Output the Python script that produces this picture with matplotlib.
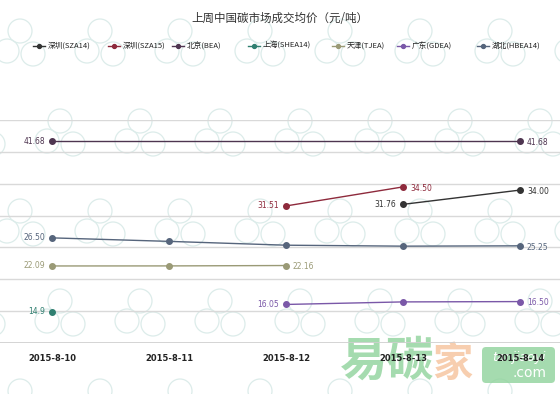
import numpy as np
import matplotlib
matplotlib.use("Agg")
import matplotlib.pyplot as plt
from matplotlib.patches import Circle, FancyBboxPatch
from matplotlib.lines import Line2D

plt.rcParams['font.family'] = ['Noto Sans CJK SC', 'DejaVu Sans']

title = "上周中国碳市场成交均价（元/吨）"
dates = ["2015-8-10", "2015-8-11", "2015-8-12", "2015-8-13", "2015-8-14"]

series_names = ["深圳(SZA14)", "深圳(SZA15)", "北京(BEA)", "上海(SHEA14)",
                "天津(TJEA)", "广东(GDEA)", "湖北(HBEA14)"]
sza14 = [None, None, None, 31.76, 34.00]
sza15 = [None, None, 31.51, 34.50, None]
bea = [41.68, None, None, None, 41.68]
shea14 = [14.9, None, None, None, None]
tjea = [22.09, 22.10, 22.16, None, None]
gdea = [None, None, 16.05, 16.45, 16.50]
hbea14 = [26.50, 25.95, 25.35, 25.20, 25.25]
all_series = [sza14, sza15, bea, shea14, tjea, gdea, hbea14]
value_labels = [
    {3: "31.76", 4: "34.00"},
    {2: "31.51", 3: "34.50"},
    {0: "41.68", 4: "41.68"},
    {0: "14.9"},
    {0: "22.09", 2: "22.16"},
    {2: "16.05", 4: "16.50"},
    {0: "26.50", 4: "25.25"},
]
colors = ["#333333", "#8e2a3c", "#4e3550", "#2f7f70", "#9a9a76", "#7a58a8", "#56657c"]

W, H = 560, 394
fig = plt.figure(figsize=(W / 100, H / 100), dpi=100)
fig.patch.set_facecolor("white")

# faint background pattern in pixel coordinates
bg = fig.add_axes([0, 0, 1, 1], zorder=0)
bg.set_xlim(0, W)
bg.set_ylim(H, 0)
bg.axis("off")
for j, cy in enumerate(np.arange(45, H + 60, 90)):
    for cx in np.arange(20 + (j % 2) * 40 - 80, W + 80, 80):
        for dx, dy in [(0, -14), (-13, 6), (13, 9)]:
            bg.add_patch(Circle((cx + dx, cy + dy), 12, fill=False,
                                ec="#dcecea", lw=0.9))

# brand mark in the lower right corner, beneath the chart layer
brand = fig.add_axes([0, 0, 1, 1], zorder=0.5)
brand.set_xlim(0, W)
brand.set_ylim(H, 0)
brand.axis("off")
brand.text(387, 362, "易碳", fontsize=34, fontweight="bold", color="#8fd39b",
           alpha=0.8, ha="center", va="center")
brand.text(452, 364, "家", fontsize=29, fontweight="bold", color="#f6c29b",
           alpha=0.8, ha="center", va="center")
brand.add_patch(FancyBboxPatch((482, 347), 73, 36, boxstyle="round,pad=0,rounding_size=4",
                               fc="#8fd39b", ec="none", alpha=0.8))
brand.text(519, 357, "tanjiaoyi", fontsize=9, color="white", ha="center",
           va="center", style="italic", family="DejaVu Sans")
brand.text(530, 373, ".com", fontsize=10, color="white", ha="center", va="center",
           family="DejaVu Sans")

# main chart
x_left, x_right = -52 / 117, 4 + 40 / 117
y_bot_px, y_top_px = 343, 120
ax = fig.add_axes([0, (H - y_bot_px) / H, 1, (y_bot_px - y_top_px) / H], zorder=1)
ax.set_facecolor("none")
ax.set_xlim(x_left, x_right)
ax.set_ylim(10, 45)
for s in ax.spines.values():
    s.set_visible(False)
ax.set_yticks(np.arange(10, 46, 5))
ax.set_yticklabels([])
ax.tick_params(axis="y", length=0)
ax.grid(axis="y", color="#d9d9d9", lw=1.0)
ax.axhline(10, color="#cfcfcf", lw=1.2)
ax.set_xticks(range(len(dates)))
ax.set_xticklabels(dates, fontsize=6, fontweight="bold", color="#222222",
                   family="DejaVu Sans")
ax.tick_params(axis="x", length=0, pad=8)

for vals, col, labels in zip(all_series, colors, value_labels):
    xs = [i for i, v in enumerate(vals) if v is not None]
    ys = [v for v in vals if v is not None]
    ax.plot(xs, ys, color=col, lw=1.0, marker="o", ms=4, zorder=3)
    first = xs[0]
    for idx, txt in labels.items():
        yv = vals[idx]
        if idx == first:
            ax.annotate(txt, (idx, yv), xytext=(-5, 0), textcoords="offset points",
                        ha="right", va="center", fontsize=5.5, color=col,
                        family="DejaVu Sans")
        else:
            ax.annotate(txt, (idx, yv), xytext=(5, -1), textcoords="offset points",
                        ha="left", va="center", fontsize=5.5, color=col,
                        family="DejaVu Sans")

# title
fig.text(0.5, 1 - 18 / H, title, ha="center", va="center", fontsize=8.3,
         color="#333333")

# legend row
leg_x = [33, 108, 172, 248, 332, 397, 477]
leg_y = 46
for lx, name, col in zip(leg_x, series_names, colors):
    fy = 1 - leg_y / H
    fig.add_artist(Line2D([lx / W, (lx + 12) / W], [fy, fy], color=col, lw=1.0,
                          transform=fig.transFigure))
    fig.add_artist(Line2D([(lx + 6) / W], [fy], color=col, marker="o", ms=2.8,
                          transform=fig.transFigure))
    fig.text((lx + 15) / W, fy, name, ha="left", va="center", fontsize=5.5,
             color="#222222")

fig.savefig("out.png", dpi=100, facecolor="white")
